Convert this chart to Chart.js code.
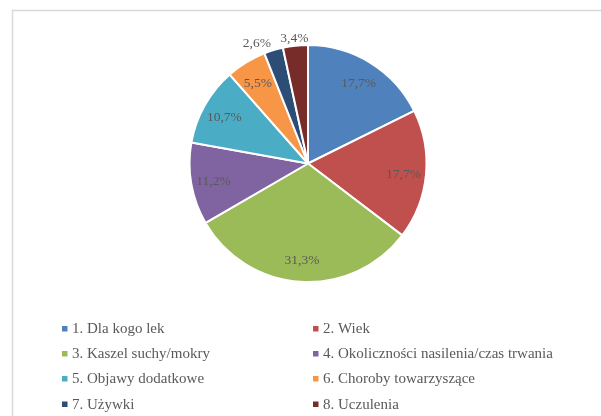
<!DOCTYPE html>
<html>
<head>
<meta charset="utf-8">
<script src="https://cdn.jsdelivr.net/npm/chart.js@4.4.0/dist/chart.umd.min.js"></script>
<style>
  html, body { margin: 0; padding: 0; background: #ffffff; }
  #wrap { position: relative; width: 601px; height: 416px; }
  canvas { display: block; }
</style>
</head>
<body>
<div id="wrap"><canvas id="c" width="601" height="416"></canvas></div>
<script>
const categories = [
  "1. Dla kogo lek",
  "2. Wiek",
  "3. Kaszel suchy/mokry",
  "4. Okoliczności nasilenia/czas trwania",
  "5. Objawy dodatkowe",
  "6. Choroby towarzyszące",
  "7. Używki",
  "8. Uczulenia"
];
const values = [17.7, 17.7, 31.3, 11.2, 10.7, 5.5, 2.6, 3.4];
const colors = ["#4F81BD", "#C0504D", "#9BBB59", "#8064A2", "#4BACC6", "#F79646", "#2C4D75", "#772C2A"];

const FONT = "'Liberation Serif', 'Times New Roman', serif";

const framePlugin = {
  id: 'frame',
  beforeDraw(chart) {
    const ctx = chart.ctx;
    ctx.save();
    ctx.fillStyle = '#ffffff';
    ctx.fillRect(0, 0, chart.width, chart.height);
    ctx.strokeStyle = '#d9d9d9';
    ctx.lineWidth = 1.5;
    ctx.beginPath();
    ctx.moveTo(12.5, chart.height);
    ctx.lineTo(12.5, 10.5);
    ctx.lineTo(chart.width, 10.5);
    ctx.stroke();
    ctx.restore();
  }
};

const labelPlugin = {
  id: 'pieLabels',
  afterDatasetsDraw(chart) {
    const ctx = chart.ctx;
    const meta = chart.getDatasetMeta(0);
    ctx.save();
    ctx.font = "13.5px " + FONT;
    ctx.fillStyle = '#595959';
    ctx.textBaseline = 'middle';
    meta.data.forEach((arc, i) => {
      const p = arc.getProps(['x', 'y', 'startAngle', 'endAngle', 'outerRadius']);
      const mid = (p.startAngle + p.endAngle) / 2;
      const v = values[i];
      const txt = v.toFixed(1).replace('.', ',') + '%';
      let r, align = 'center';
      if (v >= 5) {
        r = p.outerRadius * 0.81;
      } else {
        r = p.outerRadius + 9;
        const c = Math.cos(mid);
        align = c < -0.15 ? 'right' : (c > 0.15 ? 'left' : 'center');
      }
      ctx.textAlign = align;
      ctx.fillText(txt, p.x + r * Math.cos(mid), p.y + r * Math.sin(mid) + 1.5);
    });
    ctx.restore();
  }
};

const legendPlugin = {
  id: 'twoColLegend',
  afterDraw(chart) {
    const ctx = chart.ctx;
    const colX = [62, 313];
    const rowY = [329, 354, 379, 404.5];
    ctx.save();
    ctx.font = "15px " + FONT;
    ctx.textBaseline = 'middle';
    ctx.textAlign = 'left';
    chart.data.labels.forEach((lab, i) => {
      const x = colX[i % 2];
      const y = rowY[Math.floor(i / 2)];
      ctx.fillStyle = chart.data.datasets[0].backgroundColor[i];
      ctx.fillRect(x, y - 3, 5.5, 5.5);
      ctx.fillStyle = '#595959';
      ctx.fillText(lab, x + 10, y + 0.5);
    });
    ctx.restore();
  }
};

new Chart(document.getElementById('c'), {
  type: 'pie',
  data: {
    labels: categories,
    datasets: [{
      data: values,
      backgroundColor: colors,
      borderColor: '#ffffff',
      borderWidth: 2
    }]
  },
  options: {
    responsive: false,
    animation: false,
    radius: 118.5,
    layout: { padding: { left: 58, right: 43, top: 40, bottom: 129 } },
    plugins: {
      legend: { display: false },
      tooltip: { enabled: false }
    }
  },
  plugins: [framePlugin, labelPlugin, legendPlugin]
});
</script>
</body>
</html>
